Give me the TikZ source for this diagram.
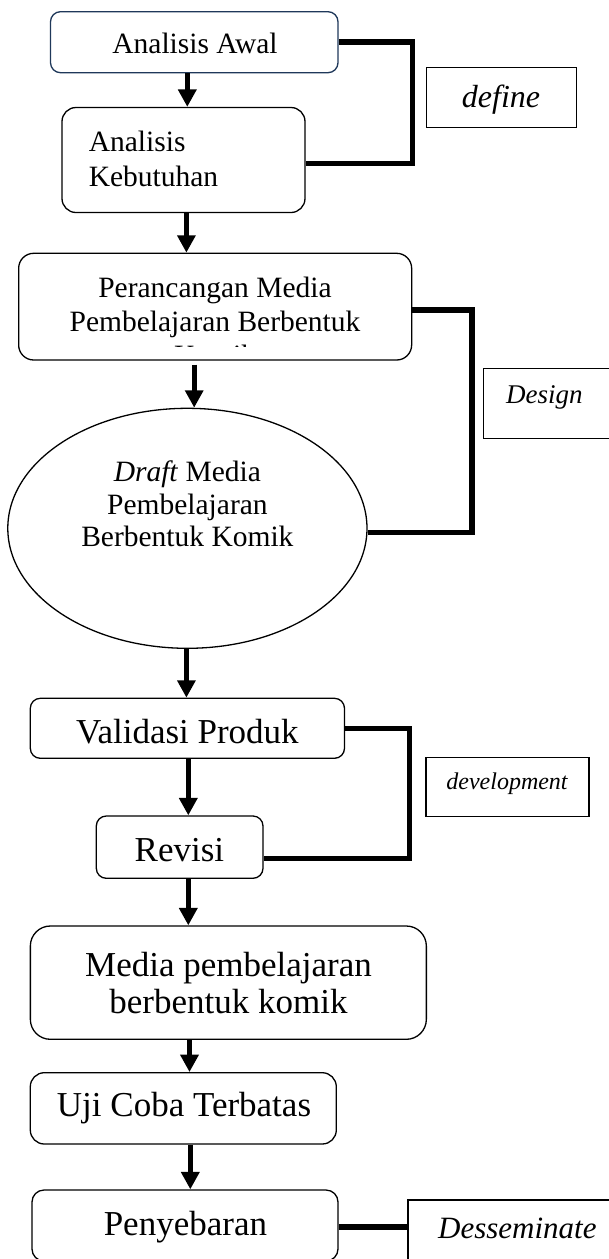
\documentclass[tikz,border=0pt]{standalone}
\usepackage{fontspec}
\setmainfont{Liberation Serif}
\usetikzlibrary{arrows.meta,shapes.geometric,calc}
\definecolor{navy}{RGB}{31,56,90}
\tikzset{
  rbox/.style={draw, line width=1.3pt, rounded corners=10pt, inner sep=0pt},
  lbox/.style={draw, line width=1.2pt, inner sep=0pt},
  arr/.style={line width=5.3pt, -{Triangle[width=17.7pt,length=17.4pt]}},
  brk/.style={line width=5.3pt},
  fa/.style={font=\fontsize{29.5}{34}\selectfont},
  fb/.style={font=\fontsize{35}{36.7}\selectfont},
  txt/.style={inner sep=0pt, align=center},
}
\begin{document}
\begin{tikzpicture}[x=1pt,y=-1pt]
\path[use as bounding box] (0,0) rectangle (609,1259);
\clip (0,0) rectangle (609,1259);

% define phase
\node[rbox, draw=navy, minimum width=287.5pt, minimum height=61pt] (awal) at (194.25,42.2) {};
\node[txt, fa] (awaltext) at (195,43) {Analisis Awal};
\node[rbox, rounded corners=14pt, minimum width=243pt, minimum height=105pt] (keb) at (183.5,160) {};
\node[txt, align=left, anchor=west, font=\fontsize{29.5}{35}\selectfont] (kebtext) at (88.6,159.2) {Analisis\\Kebutuhan};
\node[lbox, minimum width=150.3pt, minimum height=60pt] (def) at (501.65,97.7) {};
\node[txt, font=\fontsize{32}{34}\selectfont\itshape] (deftext) at (501,100) {define};

% design phase
\node[rbox, rounded corners=15pt, minimum width=393pt, minimum height=106.7pt] (per) at (215.15,306.65) {};
\begin{scope}
  \clip (18,250) rectangle (412,346.5);
  \node[txt, fa] (pertext) at (215,321.7) {Perancangan Media\\Pembelajaran Berbentuk\\Komik};
\end{scope}
\node[ellipse, draw, line width=1.3pt, inner sep=0pt, minimum width=359.2pt, minimum height=240pt] (ell) at (187.4,528.3) {};
\node[txt, font=\fontsize{29.5}{32.5}\selectfont] (elltext) at (187.4,504.2) {\textit{Draft} Media\\Pembelajaran\\Berbentuk Komik};
\node[lbox, minimum width=136.5pt, minimum height=70pt] (des) at (551.75,403.3) {};
\node[txt, anchor=west, font=\fontsize{27}{30}\selectfont\itshape] (destext) at (506,397) {Design};

% development phase
\node[rbox, minimum width=314.2pt, minimum height=60pt] (val) at (187.4,728.3) {};
\node[txt, fb] (valtext) at (187.4,731.7) {Validasi Produk};
\node[rbox, minimum width=166.7pt, minimum height=62.3pt] (rev) at (179.65,847.15) {};
\node[txt, fb] (revtext) at (179.4,850) {Revisi};
\node[lbox, minimum width=163pt, minimum height=59.4pt] (dev) at (507.5,787) {};
\node[txt, font=\fontsize{24}{27}\selectfont\itshape] (devtext) at (507,783.3) {development};
\node[rbox, rounded corners=20pt, minimum width=396pt, minimum height=113.3pt] (med) at (228.35,982.65) {};
\node[txt, fb] (medtext) at (228.5,983.3) {Media pembelajaran\\berbentuk komik};

% disseminate phase
\node[rbox, rounded corners=14pt, minimum width=306pt, minimum height=71.3pt] (uji) at (183.3,1108.35) {};
\node[txt, fb] (ujitext) at (184,1108.3) {Uji Coba Terbatas};
\node[rbox, rounded corners=12pt, minimum width=306pt, minimum height=71pt] (pen) at (185,1225.5) {};
\node[txt, fb] (pentext) at (185.4,1227.5) {Penyebaran};
\node[lbox, minimum width=212pt, minimum height=70pt] (dsm) at (514,1235) {};
\node[txt, anchor=west, font=\fontsize{31}{34}\selectfont\itshape] (dsmtext) at (438,1228) {Desseminate};

% arrows
\draw[arr] (awal.south -| 187.3,0) -- (keb.north -| 187.3,0);
\draw[arr] (keb.south -| 186.4,0) -- (per.north -| 186.4,0);
\draw[arr] (per.south -| 194.2,0) ++(0,4) -- (ell.north -| 194.2,0);
\draw[arr] (ell.south -| 186.4,0) -- (val.north -| 186.4,0);
\draw[arr] (val.south -| 188.3,0) -- (rev.north -| 188.3,0);
\draw[arr] (rev.south -| 188.3,0) -- (med.north -| 188.3,0);
\draw[arr] (med.south -| 189.5,0) -- (uji.north -| 189.5,0);
\draw[arr] (uji.south -| 190.3,0) -- (pen.north -| 190.3,0);

% brackets
\draw[brk] (awal.east |- 0,42) -| (412.5,163.3) -- (keb.east |- 0,163.3);
\draw[brk] (per.east |- 0,310) -| (472,532.7) -- (ell.east |- 0,532.7);
\draw[brk] (val.east |- 0,728.3) -| (409.7,858.3) -- (rev.east |- 0,858.3);
\draw[brk] (pen.east |- 0,1227) -- (dsm.west |- 0,1227);
\end{tikzpicture}
\end{document}
